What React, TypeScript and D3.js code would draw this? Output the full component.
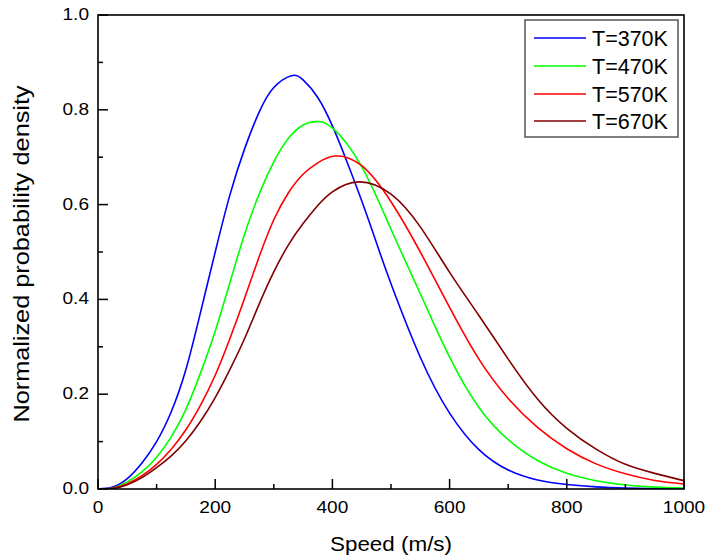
import React from 'react';
import * as d3 from 'd3';

// Speed (m/s) / normalized density
const speed370 = [0, 25, 50, 75, 100, 125, 150, 175, 200, 225, 250, 275, 300, 330, 350, 375, 400, 425, 450, 475, 500, 550, 600, 650, 700, 750, 800, 850, 900, 950, 1000];
const density370 = [0, 0.004, 0.022, 0.055, 0.1, 0.163, 0.252, 0.373, 0.5, 0.62, 0.717, 0.795, 0.847, 0.872, 0.863, 0.826, 0.766, 0.69, 0.608, 0.52, 0.433, 0.278, 0.16, 0.083, 0.04, 0.019, 0.0095, 0.0045, 0.002, 0.001, 0.0004];

const speed470 = [0, 25, 50, 75, 100, 125, 150, 175, 200, 225, 250, 275, 300, 325, 350, 370, 400, 450, 500, 550, 600, 650, 700, 750, 800, 850, 900, 950, 1000];
const density470 = [0, 0.002, 0.015, 0.036, 0.067, 0.11, 0.168, 0.245, 0.333, 0.435, 0.537, 0.622, 0.69, 0.74, 0.768, 0.775, 0.762, 0.68, 0.548, 0.412, 0.278, 0.172, 0.104, 0.06, 0.033, 0.0175, 0.0085, 0.004, 0.002];

const speed570 = [0, 25, 50, 75, 100, 125, 150, 175, 200, 225, 250, 275, 300, 325, 350, 375, 405, 450, 500, 550, 600, 650, 700, 750, 800, 850, 900, 950, 1000];
const density570 = [0, 0.0015, 0.011, 0.028, 0.052, 0.084, 0.125, 0.177, 0.24, 0.317, 0.402, 0.49, 0.568, 0.625, 0.664, 0.688, 0.7025, 0.682, 0.606, 0.5, 0.383, 0.274, 0.191, 0.13, 0.085, 0.053, 0.032, 0.018, 0.0105];

const speed670 = [0, 25, 50, 75, 100, 125, 150, 175, 200, 225, 250, 275, 300, 325, 350, 375, 400, 445, 500, 550, 600, 650, 700, 750, 800, 850, 900, 950, 1000];
const density670 = [0, 0.001, 0.009, 0.024, 0.045, 0.07, 0.102, 0.143, 0.193, 0.252, 0.317, 0.39, 0.458, 0.515, 0.56, 0.598, 0.627, 0.648, 0.622, 0.553, 0.457, 0.366, 0.274, 0.19, 0.128, 0.084, 0.052, 0.033, 0.0175];

const seriesLabels = ['T=370K', 'T=470K', 'T=570K', 'T=670K'];
const seriesColors = ['#0000ff', '#00ff00', '#ff0000', '#800000'];

const xTickValues = [0, 200, 400, 600, 800, 1000];
const xTickLabels = ['0', '200', '400', '600', '800', '1000'];
const yTickValues = [0, 0.2, 0.4, 0.6, 0.8, 1.0];
const yTickLabels = ['0.0', '0.2', '0.4', '0.6', '0.8', '1.0'];

const xTitle = 'Speed (m/s)';
const yTitle = 'Normalized probability density';

const FONT = 'Liberation Sans, Arial, Helvetica, sans-serif';

export default function App() {
  const W = 707;
  const H = 557;
  const left = 98, right = 684, top = 15, bottom = 489;
  const x = d3.scaleLinear().domain([0, 1000]).range([left, right]);
  const y = d3.scaleLinear().domain([0, 1]).range([bottom, top]);

  const speeds = [speed370, speed470, speed570, speed670];
  const dens = [density370, density470, density570, density670];
  const series = speeds.map((s, i) => s.map((v, j) => [v, dens[i][j]] as [number, number]));

  const line = d3
    .line<[number, number]>()
    .x((d) => x(d[0]))
    .y((d) => Math.min(bottom, y(d[1])))
    .curve(d3.curveNatural);

  const xMinor = x.ticks(10).filter((v) => Math.round(v) % 200 !== 0);
  const yMinor = y.ticks(10).filter((v) => Math.round(v * 10) % 2 !== 0);

  const sx = 1.17;

  const legX = 525, legY = 20, legW = 153, legH = 117;
  const rowY = [38, 66, 94, 121];

  return (
    <svg width={W} height={H} style={{ position: 'absolute', left: 0, top: 0, background: '#fff' }} fontFamily={FONT}>
      <defs>
        <clipPath id="plotClip">
          <rect x={left} y={top} width={right - left} height={bottom - top} />
        </clipPath>
      </defs>
      <rect x={0} y={0} width={W} height={H} fill="#fff" />
      <g clipPath="url(#plotClip)">
        {series.map((d, i) => (
          <path key={i} d={line(d) || ''} fill="none" stroke={seriesColors[i]} strokeWidth={1.6} />
        ))}
      </g>
      {/* frame */}
      <rect x={left} y={top} width={right - left} height={bottom - top} fill="none" stroke="#000" strokeWidth={1.6} />
      {/* x ticks */}
      {xTickValues.map((v) => (
        <line key={'xM' + v} x1={x(v)} x2={x(v)} y1={bottom} y2={bottom - 10} stroke="#000" strokeWidth={1.5} />
      ))}
      {xMinor.map((v) => (
        <line key={'xm' + v} x1={x(v)} x2={x(v)} y1={bottom} y2={bottom - 5} stroke="#000" strokeWidth={1.5} />
      ))}
      {yTickValues.map((v) => (
        <line key={'yM' + v} x1={left} x2={left + 10} y1={y(v)} y2={y(v)} stroke="#000" strokeWidth={1.5} />
      ))}
      {yMinor.map((v) => (
        <line key={'ym' + v} x1={left} x2={left + 5} y1={y(v)} y2={y(v)} stroke="#000" strokeWidth={1.5} />
      ))}
      {/* tick labels */}
      {xTickValues.map((v, i) => (
        <text
          key={'xl' + v}
          transform={`translate(${x(v)},${bottom + 24}) scale(${sx},1)`}
          textAnchor="middle"
          fontSize={16.3}
          fill="#000"
        >
          {xTickLabels[i]}
        </text>
      ))}
      {yTickValues.map((v, i) => (
        <text
          key={'yl' + v}
          transform={`translate(${left - 9},${y(v) + 5}) scale(${sx},1)`}
          textAnchor="end"
          fontSize={16.3}
          fill="#000"
        >
          {yTickLabels[i]}
        </text>
      ))}
      {/* axis titles */}
      <text transform={`translate(${(left + right) / 2},551) scale(1.15,1)`} textAnchor="middle" fontSize={19.5} fill="#000">
        {xTitle}
      </text>
      <text transform={`translate(29,${(top + bottom) / 2 + 2}) rotate(-90) scale(1.15,1)`} textAnchor="middle" fontSize={22} fill="#000">
        {yTitle}
      </text>
      {/* legend */}
      <rect x={legX} y={legY} width={legW} height={legH} fill="#fff" stroke="#555" strokeWidth={1.5} />
      {seriesLabels.map((lab, i) => (
        <g key={lab}>
          <line x1={534} x2={586} y1={rowY[i]} y2={rowY[i]} stroke={seriesColors[i]} strokeWidth={1.6} />
          <text x={592} y={rowY[i] + 8} fontSize={21.5} fill="#000">
            {lab}
          </text>
        </g>
      ))}
    </svg>
  );
}
